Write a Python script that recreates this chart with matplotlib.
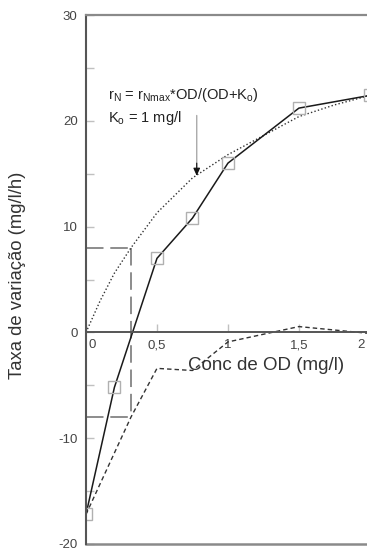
import matplotlib
matplotlib.use("Agg")
import matplotlib.pyplot as plt
from matplotlib.transforms import ScaledTranslation

plt.rcParams['font.family'] = ['Liberation Sans', 'DejaVu Sans']
plt.rcParams['mathtext.default'] = 'regular'
plt.rcParams['axes.unicode_minus'] = False

# Measured nitrification rate (squares joined by the solid line)
od_meas = [0.0, 0.2, 0.5, 0.75, 1.0, 1.5, 2.0]
rate_meas = [-17.2, -5.2, 7.0, 10.8, 16.0, 21.2, 22.4]

# Monod model r_N = r_Nmax*OD/(OD+Ko), Ko = 1 mg/l (dotted)
od_model = [0.0, 0.1, 0.2, 0.317, 0.5, 0.75, 1.0, 1.25, 1.5, 1.75, 2.0]
rate_model = [0.0, 3.0, 5.6, 8.0, 11.3, 14.6, 16.8, 18.6, 20.4, 21.5, 22.4]

# Difference between measured and model (short dashes)
od_diff = [0.0, 0.317, 0.5, 0.75, 1.0, 1.5, 2.0]
rate_diff = [-17.2, -8.0, -3.4, -3.6, -0.9, 0.55, -0.1]

# Reading at the zero crossing of the measured curve
od_cross = 0.317
model_at_cross = 8.0
diff_at_cross = -8.0

xtick_vals = [0, 0.5, 1, 1.5, 2]
xtick_text = ['0', '0,5', '1', '1,5', '2']
ytick_vals = [-20, -10, 0, 10, 20, 30]

W, H = 367, 550
fig = plt.figure(figsize=(W / 100, H / 100), dpi=100)
ax = fig.add_axes([86 / W, 6 / H, 291 / W, 529 / H])
ax.set_xlim(0, 2.05)
ax.set_ylim(-20, 30)

# guide lines at the zero crossing
guide = dict(color='#8c8c8c', lw=1.4, dashes=(9, 3.5))
ax.plot([0, od_cross], [model_at_cross, model_at_cross], **guide)
ax.plot([od_cross, od_cross], [model_at_cross, diff_at_cross], **guide)
ax.plot([0, od_cross], [diff_at_cross, diff_at_cross], **guide)

ax.plot(od_model, rate_model, color='#333333', lw=1.0, linestyle=(0, (1, 1.6)))
ax.plot(od_diff, rate_diff, color='#333333', lw=1.0, linestyle=(0, (3.2, 2.2)))
ax.plot(od_meas, rate_meas, color='#1a1a1a', lw=1.1)
ax.plot(od_meas, rate_meas, linestyle='none', marker='s', markersize=8,
        markerfacecolor='none', markeredgecolor='#b0b0b0', markeredgewidth=1.0)

# annotation with arrow pointing at the model curve
ax.text(0.0756, 0.849, r'r$_{N}$ = r$_{Nmax}$*OD/(OD+K$_{o}$)', transform=ax.transAxes,
        fontsize=10.5, color='#222222', ha='left', va='center')
ax.text(0.0756, 0.805, r'K$_{o}$ = 1 mg/l', transform=ax.transAxes,
        fontsize=10.5, color='#222222', ha='left', va='center')
ax.annotate('', xy=(0.78, 15.6), xytext=(0.78, 20.5),
            arrowprops=dict(arrowstyle='-', color='#aaaaaa', lw=1.0, shrinkA=0, shrinkB=0))
ax.annotate('', xy=(0.78, 14.8), xytext=(0.78, 16.0),
            arrowprops=dict(arrowstyle='-|>,head_length=0.45,head_width=0.2',
                            color='#111111', lw=0.8, shrinkA=0, shrinkB=0))

# frame
ax.spines['right'].set_visible(False)
ax.spines['left'].set_color('#555555')
ax.spines['left'].set_linewidth(1.5)
ax.spines['top'].set_color('#8a8a8a')
ax.spines['top'].set_linewidth(1.6)
ax.spines['bottom'].set_position(('data', 0))
ax.spines['bottom'].set_color('#555555')
ax.spines['bottom'].set_linewidth(1.4)
ax.axhline(-20, color='#8a8a8a', lw=1.8, clip_on=False)

ax.set_yticks(ytick_vals)
ax.set_yticks([-15, -5, 5, 15, 25], minor=True)
ax.tick_params(axis='y', which='both', direction='in', length=6, width=1,
               color='#c0c0c0', labelsize=9.5, labelcolor='#444444', pad=6)
ax.set_xticks(xtick_vals, xtick_text)
ax.tick_params(axis='x', which='both', direction='in', length=6, width=1,
               color='#c0c0c0', labelsize=9.5, labelcolor='#444444', pad=5)
shifts = {0: 6.5, 4: -9.0}
for i, tick in enumerate(ax.xaxis.get_major_ticks()):
    if i in shifts:
        lab = tick.label1
        lab.set_transform(lab.get_transform() + ScaledTranslation(shifts[i] / 100, 0, fig.dpi_scale_trans))

fig.text(266 / W, 1 - 366 / H, 'Conc de OD (mg/l)', fontsize=13.5, color='#333333',
         ha='center', va='center')
fig.text(18 / W, 1 - 275 / H, 'Taxa de variação (mg/l/h)', fontsize=13.3, color='#333333',
         ha='center', va='center', rotation=90)

fig.savefig('out.png', dpi=100)
